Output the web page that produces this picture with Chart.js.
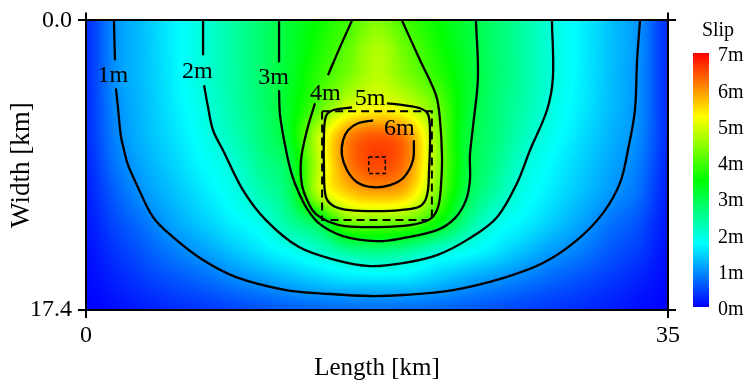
<!DOCTYPE html>
<html>
<head>
<meta charset="utf-8">
<script src="https://cdn.jsdelivr.net/npm/chart.js@4.4.1/dist/chart.umd.min.js"></script>
<style>
  html, body { margin: 0; padding: 0; background: #fff; }
  #wrap { width: 746px; height: 383px; }
</style>
</head>
<body>
<div id="wrap"><canvas id="slipChart" width="746" height="383"></canvas></div>
<script>
// ── Slip model on the fault plane (km along strike / down dip, metres of slip) ──
const GRID_X = [0, 1.75, 3.5, 5.25, 7, 8.75, 10.5, 12.25, 14, 15.75, 17.5,
                19.25, 21, 22.75, 24.5, 26.25, 28, 29.75, 31.5, 33.25, 35];
const GRID_Y = [0, 1.74, 3.48, 5.22, 6.96, 8.7, 10.44, 12.18, 13.92, 15.66, 17.4];
const SLIP = [
  [0.30, 1.00, 1.34, 1.66, 2.00, 2.37, 2.75, 3.15, 3.55, 3.95, 4.40, 3.95, 3.55, 3.16, 2.78, 2.40, 2.00, 1.67, 1.34, 1.00, 0.30],
  [0.30, 1.00, 1.33, 1.66, 2.00, 2.37, 2.75, 3.18, 3.67, 4.15, 4.70, 4.20, 3.68, 3.20, 2.79, 2.40, 2.00, 1.67, 1.33, 1.00, 0.30],
  [0.30, 1.00, 1.32, 1.65, 2.00, 2.36, 2.75, 3.23, 3.83, 4.35, 4.80, 4.40, 3.88, 3.29, 2.80, 2.41, 2.00, 1.66, 1.32, 0.98, 0.30],
  [0.30, 0.95, 1.29, 1.61, 1.93, 2.32, 2.72, 3.30, 4.10, 4.95, 5.20, 5.00, 4.30, 3.29, 2.74, 2.35, 1.95, 1.63, 1.30, 0.97, 0.30],
  [0.30, 0.90, 1.27, 1.54, 1.85, 2.22, 2.66, 3.30, 4.85, 6.05, 6.40, 6.10, 4.60, 3.20, 2.71, 2.24, 1.85, 1.54, 1.23, 0.95, 0.30],
  [0.25, 0.80, 1.16, 1.44, 1.73, 2.00, 2.50, 3.00, 4.80, 6.10, 6.50, 6.15, 4.65, 3.20, 2.60, 2.05, 1.72, 1.43, 1.14, 0.85, 0.25],
  [0.20, 0.65, 1.03, 1.30, 1.58, 1.86, 2.27, 2.83, 4.75, 5.55, 5.80, 5.60, 4.40, 3.05, 2.40, 1.90, 1.60, 1.32, 1.04, 0.75, 0.20],
  [0.15, 0.50, 0.80, 1.13, 1.39, 1.65, 1.90, 2.43, 3.00, 4.20, 4.25, 4.15, 3.55, 2.60, 1.96, 1.68, 1.40, 1.12, 0.80, 0.55, 0.15],
  [0.10, 0.35, 0.60, 0.85, 1.07, 1.32, 1.56, 1.81, 2.06, 2.42, 2.56, 2.40, 2.05, 1.83, 1.58, 1.32, 1.06, 0.85, 0.60, 0.40, 0.10],
  [0.05, 0.22, 0.40, 0.55, 0.70, 0.88, 1.05, 1.22, 1.38, 1.50, 1.52, 1.50, 1.35, 1.15, 1.00, 0.84, 0.68, 0.53, 0.38, 0.22, 0.05],
  [0.00, 0.10, 0.20, 0.30, 0.38, 0.47, 0.56, 0.64, 0.70, 0.74, 0.75, 0.74, 0.70, 0.63, 0.55, 0.47, 0.38, 0.30, 0.20, 0.10, 0.00],
];

// colour scale
const SLIP_STOPS = [0, 1.75, 3.5, 5.25, 7];
const SLIP_COLORS = ["#0000ff", "#00ffff", "#00ff00", "#ffff00", "#ff0000"];
const CBAR_TICKS = [0, 1, 2, 3, 4, 5, 6, 7];

// axes
const X_TICKS = [0, 35];
const Y_TICKS = [0, 17.4];

// ── Contour lines [x km, y km] (split where the level label sits) ──
const C1M_TOP = [[1.68, 0], [1.71, 1.2], [1.74, 2.4]];
const C1M = [[1.80, 4.08], [1.92, 5.22], [2.10, 6.96], [2.29, 7.80], [2.53, 8.70], [3.01, 9.78],
  [4.03, 11.82], [5.23, 13.02], [7.04, 14.40], [9.02, 15.42], [12.03, 16.20], [14.67, 16.44],
  [17.08, 16.56], [19.06, 16.50], [22.07, 16.20], [25.08, 15.48], [27.48, 14.58], [29.53, 13.20],
  [31.09, 11.58], [32.11, 9.78], [32.59, 7.80], [33.01, 5.40], [33.14, 2.40], [33.32, 0]];
const C2M_TOP = [[7.04, 0], [7.04, 2.1]];
const C2M = [[7.10, 3.90], [7.34, 5.22], [7.64, 6.60], [8.24, 7.80], [9.44, 10.20], [10.82, 12.00],
  [12.81, 13.62], [15.03, 14.40], [17.08, 14.76], [19.06, 14.58], [21.11, 14.10], [23.09, 13.08],
  [24.72, 11.82], [25.92, 9.78], [26.70, 7.80], [27.72, 5.40], [28.08, 3.42], [28.02, 0]];
const C3M_TOP = [[11.61, 0], [11.61, 2.52]];
const C3M = [[11.61, 4.20], [11.67, 5.70], [12.03, 7.80], [12.39, 9.30], [12.81, 10.38], [13.35, 11.40],
  [14.07, 12.24], [15.46, 12.96], [17.50, 13.26], [19.06, 13.08], [21.11, 12.60], [22.19, 11.88],
  [22.85, 10.80], [23.09, 9.60], [23.09, 8.10], [23.27, 6.42], [23.57, 3.42], [23.45, 0]];
const C4M_TOP = [[16.00, 0], [15.27, 1.62], [14.55, 3.30]];
const C4M = [[13.77, 4.98], [13.29, 6.60], [12.93, 8.40], [12.99, 9.90], [13.41, 11.04], [13.83, 11.64],
  [14.60, 12.10], [15.58, 12.36], [17.50, 12.42], [19.48, 12.30], [20.69, 11.94], [21.17, 11.22],
  [21.35, 9.90], [21.41, 8.22], [21.29, 6.00], [21.05, 4.50], [20.09, 2.40], [19.00, 0]];
const C5M = [[18.10, 4.98], [19.18, 5.10], [20.09, 5.28], [20.57, 5.64], [20.69, 6.90], [20.63, 9.00],
  [20.51, 10.50], [20.09, 11.16], [18.88, 11.40], [17.50, 11.46], [15.88, 11.40], [14.91, 11.16],
  [14.43, 10.62], [14.31, 9.00], [14.31, 6.90], [14.43, 5.76], [14.85, 5.40], [16.00, 5.22]];
const C6M = [[19.72, 7.20], [19.66, 8.40], [19.12, 9.42], [18.28, 9.90], [17.26, 10.02], [16.30, 9.72],
  [15.70, 9.00], [15.39, 8.10], [15.46, 7.20], [15.76, 6.60], [16.36, 6.18], [17.26, 6.00]];

const CONTOUR_LABELS = [
  ["1m", 1.62, 3.33], ["2m", 6.70, 3.06], ["3m", 11.28, 3.42],
  ["4m", 14.40, 4.41], ["5m", 17.08, 4.71], ["6m", 18.85, 6.51],
];

// asperity outline and hypocentre box
const ASPERITY = [[14.2, 5.46], [20.8, 5.46], [20.8, 12.0], [14.2, 12.0], [14.2, 5.46]];
const HYPO = [[17.0, 8.2], [18.0, 8.2], [18.0, 9.2], [17.0, 9.2], [17.0, 8.2]];

const SERIF = '"Liberation Serif", "Times New Roman", serif';
Chart.defaults.font.family = SERIF;
Chart.defaults.color = "#000";

// ── Helpers ──
const RGB = SLIP_COLORS.map((h) => [1, 3, 5].map((i) => parseInt(h.slice(i, i + 2), 16)));

function slipColor(v) {
  const n = SLIP_STOPS.length;
  v = Math.max(SLIP_STOPS[0], Math.min(SLIP_STOPS[n - 1], v));
  let k = 0;
  while (k < n - 2 && v > SLIP_STOPS[k + 1]) k++;
  const t = (v - SLIP_STOPS[k]) / (SLIP_STOPS[k + 1] - SLIP_STOPS[k]);
  const a = RGB[k], b = RGB[k + 1];
  return [a[0] + (b[0] - a[0]) * t, a[1] + (b[1] - a[1]) * t, a[2] + (b[2] - a[2]) * t];
}

// fractional node index of a value
function gridPos(nodes, v) {
  if (v <= nodes[0]) return 0;
  for (let k = 0; k < nodes.length - 1; k++) {
    if (v <= nodes[k + 1]) return k + (v - nodes[k]) / (nodes[k + 1] - nodes[k]);
  }
  return nodes.length - 1;
}

function cr(p0, p1, p2, p3, t) {
  return p1 + 0.5 * t * (p2 - p0 + t * (2 * p0 - 5 * p1 + 4 * p2 - p3 + t * (3 * (p1 - p2) + p3 - p0)));
}

function sampleSlip(fr, fc) {
  const rows = SLIP.length, cols = SLIP[0].length;
  const r = Math.min(Math.floor(fr), rows - 2), c = Math.min(Math.floor(fc), cols - 2);
  const tr = fr - r, tc = fc - c;
  const cell = (i, j) => SLIP[Math.max(0, Math.min(rows - 1, i))][Math.max(0, Math.min(cols - 1, j))];
  const row = (i) => cr(cell(i, c - 1), cell(i, c), cell(i, c + 1), cell(i, c + 2), tc);
  return cr(row(r - 1), row(r), row(r + 1), row(r + 2), tr);
}

// ── Plugins ──
const slipField = {
  id: "slipField",
  beforeDraw(chart) {
    const { ctx, chartArea: a, scales } = chart;
    const left = Math.round(a.left), top = Math.round(a.top);
    const w = Math.round(a.right) - left, h = Math.round(a.bottom) - top;
    const img = ctx.createImageData(w, h);
    const cols = [], rows = [];
    for (let i = 0; i < w; i++) cols.push(gridPos(GRID_X, scales.x.getValueForPixel(left + i + 0.5)));
    for (let j = 0; j < h; j++) rows.push(gridPos(GRID_Y, scales.y.getValueForPixel(top + j + 0.5)));
    let p = 0;
    for (let j = 0; j < h; j++) {
      for (let i = 0; i < w; i++) {
        const [r, g, b] = slipColor(sampleSlip(rows[j], cols[i]));
        img.data[p++] = r; img.data[p++] = g; img.data[p++] = b; img.data[p++] = 255;
      }
    }
    ctx.putImageData(img, left, top);
  },
};

const overlay = {
  id: "overlay",
  afterDatasetsDraw(chart) {
    const { ctx, scales } = chart;
    ctx.save();
    ctx.font = `24px ${SERIF}`;
    ctx.fillStyle = "#000";
    ctx.textAlign = "center";
    ctx.textBaseline = "middle";
    CONTOUR_LABELS.forEach(([t, x, y]) => {
      ctx.fillText(t, scales.x.getPixelForValue(x), scales.y.getPixelForValue(y));
    });
    ctx.restore();
  },
  afterDraw(chart) {
    const { ctx, chartArea: a } = chart;
    const bx = a.right + 25, bw = 16, top = 53, bottom = 307;
    const vmax = SLIP_STOPS[SLIP_STOPS.length - 1];
    const grad = ctx.createLinearGradient(0, bottom, 0, top);
    SLIP_STOPS.forEach((s, i) => grad.addColorStop(s / vmax, SLIP_COLORS[i]));
    ctx.save();
    ctx.fillStyle = grad;
    ctx.fillRect(bx, top, bw, bottom - top);
    ctx.fillStyle = "#000";
    ctx.font = `20px ${SERIF}`;
    ctx.textBaseline = "middle";
    ctx.textAlign = "left";
    CBAR_TICKS.forEach((v) => {
      ctx.fillText(`${v}m`, bx + bw + 9, bottom - (v / vmax) * (bottom - top) + 3);
    });
    ctx.textAlign = "center";
    ctx.fillText("Slip", bx + bw + 9, 31);
    ctx.restore();
  },
};

// ── Chart ──
const line = (pts, extra) => ({
  data: pts.map(([x, y]) => ({ x, y })),
  showLine: true,
  pointRadius: 0,
  borderColor: "#000",
  borderWidth: 2.3,
  tension: 0.35,
  ...extra,
});

const datasets = [C1M_TOP, C1M, C2M_TOP, C2M, C3M_TOP, C3M, C4M_TOP, C4M, C5M, C6M].map((c) => line(c));
datasets.push(line(ASPERITY, { tension: 0, borderWidth: 2, borderDash: [8, 5] }));
datasets.push(line(HYPO, { tension: 0, borderWidth: 1.5, borderDash: [4, 2.5] }));

const edge = {
  grid: { drawOnChartArea: false, tickLength: 8, color: "#000", lineWidth: 2 },
  border: { color: "#000", width: 2, z: 1 },
};

new Chart(document.getElementById("slipChart").getContext("2d"), {
  type: "scatter",
  data: { datasets },
  options: {
    responsive: false,
    animation: false,
    events: [],
    layout: { padding: 0 },
    plugins: { legend: { display: false }, tooltip: { enabled: false } },
    scales: {
      x: {
        type: "linear", position: "bottom", min: 0, max: 35, ...edge,
        afterBuildTicks: (s) => { s.ticks = X_TICKS.map((value) => ({ value })); },
        afterFit: (s) => { s.height = 73; },
        ticks: { font: { size: 24 }, padding: 3, maxRotation: 0 },
        title: { display: true, text: "Length [km]", font: { size: 25 }, padding: 0 },
      },
      x2: {
        type: "linear", position: "top", min: 0, max: 35, ...edge,
        afterBuildTicks: (s) => { s.ticks = X_TICKS.map((value) => ({ value })); },
        afterFit: (s) => { s.height = 20; },
        ticks: { display: false },
      },
      y: {
        type: "linear", position: "left", min: 0, max: 17.4, reverse: true, ...edge,
        afterBuildTicks: (s) => { s.ticks = Y_TICKS.map((value) => ({ value })); },
        afterFit: (s) => { s.width = 86; },
        ticks: { font: { size: 24 }, padding: 6, callback: (v) => v.toFixed(1) },
        title: { display: true, text: "Width [km]", font: { size: 27 }, padding: { top: 6, bottom: 0 } },
      },
      y2: {
        type: "linear", position: "right", min: 0, max: 17.4, reverse: true, ...edge,
        afterBuildTicks: (s) => { s.ticks = Y_TICKS.map((value) => ({ value })); },
        afterFit: (s) => { s.width = 78; },
        ticks: { display: false },
      },
    },
  },
  plugins: [slipField, overlay],
});
</script>
</body>
</html>
